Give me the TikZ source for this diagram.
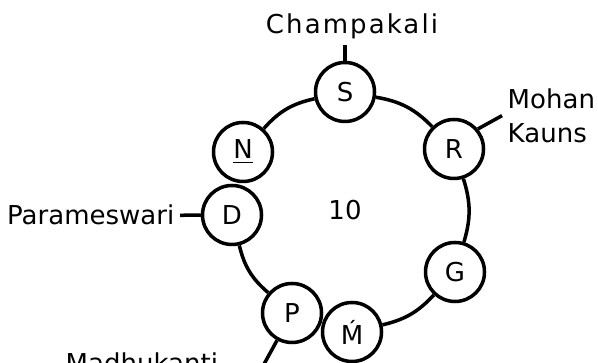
\documentclass[tikz,border=0pt]{standalone}
\usepackage{amsmath,amssymb}
\usepackage{fontspec}
\setmainfont{DejaVu Sans}
\usepackage{tikz}

\begin{document}
\begin{tikzpicture}[scale=0.1,
	note/.style={draw=black, circle, line width=1pt, fill=white, minimum size=5.9mm, inner sep=0pt, font=\fontsize{7.4pt}{9pt}\selectfont},
	lbl/.style={inner sep=0.5mm, font=\fontsize{7.4pt}{9.6pt}\selectfont},
	ring/.style={draw=black, line width=1pt}]
			\useasboundingbox (0,0) rectangle (59.8,-36.3);
			% the notes round the ring
			\node [note] (S) at (34.5,-9.2) {S};
			\node [note] (R) at (45.4,-14.9) {R};
			\node [note] (G) at (45.5,-27.2) {G};
			\node [note] (Mt) at (35.2,-33.2) {Ḿ};
			\node [note] (P) at (29.2,-31.3) {P};
			\node [note] (D) at (23.2,-21.5) {D};
			\node [note] (N) at (24.3,-15.2) {\underline{N}};
			\node [lbl] (ten) at (34.5,-21.0) {10};
			% ring
			\draw [ring] (S) to[bend left=18] (R);
			\draw [ring] (R) to[bend left=17] (G);
			\draw [ring] (G) to[bend left=17] (Mt);
			\draw [ring] (P) to[bend left=18] (D);
			\draw [ring] (N) to[bend left=18] (S);
			% names of the scales
			\node [lbl, anchor=base] (champakali) at (35.2,-3.4) {\addfontfeature{LetterSpace=8}Champakali};
			\node [lbl, anchor=north west, align=left] (mohan) at (50.2,-8.3) {Mohan\\Kauns};
			\node [lbl, anchor=base east] (parameswari) at (18.0,-22.5) {Parameswari};
			\node [lbl, anchor=base west] (madhukanti) at (6.0,-37.3) {Madhukanti};
			\coordinate (mk) at (25.8,-37.5);
			\draw [ring] (S.north) -- (S.north |- champakali.south);
			\draw [ring] (R.40) -- (mohan.west);
			\draw [ring] (parameswari.east) -- (D.west);
			\draw [ring] (P) -- (mk);
\end{tikzpicture}
\end{document}
